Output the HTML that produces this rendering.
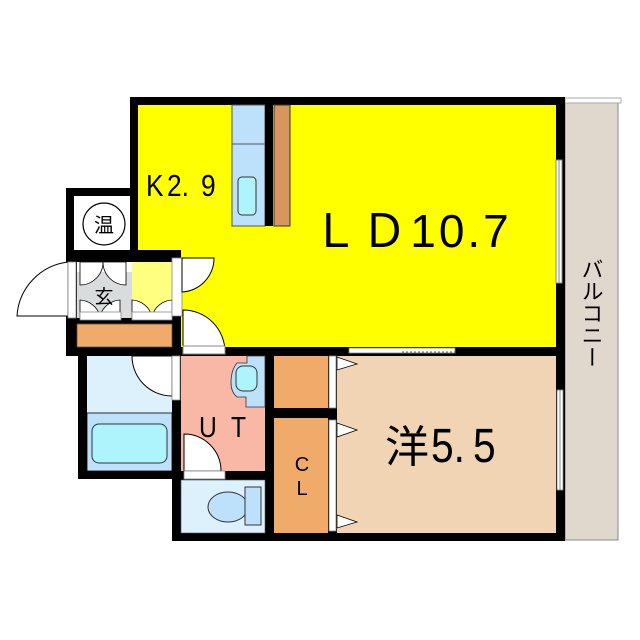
<!DOCTYPE html>
<html><head><meta charset="utf-8"><style>
html,body{margin:0;padding:0;background:#fff;}
svg{display:block;}
text{font-family:"Liberation Sans","Noto Sans CJK JP",sans-serif;fill:#000;}
</style></head><body>
<svg width="640" height="640" viewBox="0 0 640 640" xmlns="http://www.w3.org/2000/svg">
<rect width="640" height="640" fill="#fff"/>
<!-- balcony -->
<rect x="565" y="103" width="53" height="437" fill="#e0d8cc" stroke="#888" stroke-width="1"/>
<rect x="565" y="98" width="56" height="5" fill="#fff" stroke="#aaa" stroke-width="1"/>
<text x="591" y="258" font-size="22" style="writing-mode:vertical-rl">バルコニー</text>
<!-- outer black walls -->
<rect x="130" y="97" width="435" height="259" fill="#000"/>
<rect x="66" y="188" width="72" height="168" fill="#000"/>
<rect x="78" y="350" width="196" height="129" fill="#000"/>
<rect x="172" y="350" width="393" height="191" fill="#000"/>
<!-- LD yellow -->
<rect x="138" y="105" width="418" height="242" fill="#ffff00"/>
<!-- genkan block walls -->
<rect x="66" y="250" width="115" height="106" fill="#000"/>
<!-- corridor door in LD -->
<path d="M183 355 L183 310 A42 42 0 0 1 225 352 Z" fill="#fff" stroke="#000" stroke-width="1"/>
<rect x="183" y="346" width="42" height="8" fill="#fff" stroke="#888" stroke-width="1"/>
<!-- kitchen -->
<rect x="232" y="105" width="33" height="121" fill="#bde0fb" stroke="#555" stroke-width="1"/>
<line x1="232" y1="144" x2="265" y2="144" stroke="#555"/>
<rect x="238" y="177" width="18" height="38" rx="4" fill="#aef4fc" stroke="#333"/>
<rect x="265" y="105" width="8" height="121" fill="#000"/>
<rect x="274" y="105" width="16" height="121" fill="#d8955f" stroke="#333" stroke-width="1"/>
<!-- window right of LD -->
<rect x="556" y="160" width="6" height="123" fill="#fff" stroke="#888" stroke-width="1"/>
<line x1="559" y1="160" x2="559" y2="283" stroke="#888"/>
<!-- 温 -->
<rect x="74" y="196" width="56" height="54" fill="#fff"/>
<circle cx="104" cy="224" r="21" fill="#fff" stroke="#000" stroke-width="1.2"/>
<text x="104" y="232" font-size="20" text-anchor="middle">温</text>
<!-- genkan -->
<rect x="77" y="262" width="55" height="56" fill="#d9dcdd"/>
<rect x="132" y="262" width="40" height="56" fill="#ffff80"/>
<rect x="77" y="262" width="55" height="10" fill="#fff"/>
<path d="M80 262 L103 262 A23 23 0 0 1 80 285 Z" fill="#fff" stroke="#000" stroke-width="0.8"/>
<path d="M126 262 L103 262 A23 23 0 0 0 126 285 Z" fill="#fff" stroke="#000" stroke-width="0.8"/>
<path d="M80 318 L80 300 A22 22 0 0 1 100 316 A22 22 0 0 1 120 300 L120 318 Z" fill="#fff" stroke="#000" stroke-width="0.8"/>
<path d="M132 318 L132 300 A22 22 0 0 1 152 316 A22 22 0 0 1 172 300 L172 318 Z" fill="#fff" stroke="#000" stroke-width="0.8"/>
<rect x="80" y="312" width="41" height="8" fill="#fff" stroke="#888" stroke-width="0.8"/>
<rect x="132" y="312" width="40" height="8" fill="#fff" stroke="#888" stroke-width="0.8"/>
<text x="104" y="303" font-size="19" text-anchor="middle">玄</text>
<rect x="77" y="324" width="95" height="23" fill="#f0aa6a" stroke="#555" stroke-width="0.8"/>
<!-- entrance door -->
<path d="M68 316 L17 316 A58 58 0 0 1 68 262 Z" fill="#fff" stroke="#000" stroke-width="1"/>
<rect x="68" y="262" width="8" height="56" fill="#fff" stroke="#888" stroke-width="0.8"/>
<!-- genkan to LD door -->
<rect x="172" y="258" width="10" height="58" fill="#fff" stroke="#888" stroke-width="0.8"/>
<path d="M182 258 L214 258 A34 34 0 0 1 182 292 Z" fill="#fff" stroke="#000" stroke-width="1"/>
<!-- bath -->
<rect x="87" y="356" width="85" height="115" fill="#dcf1fb"/>
<rect x="87" y="413" width="85" height="58" fill="#bde0fb" stroke="#000" stroke-width="0.8"/>
<rect x="92" y="424" width="75" height="39" rx="7" fill="#aef4fc" stroke="#333"/>
<path d="M172 356 L132 356 A40 40 0 0 0 172 396 Z" fill="#fff" stroke="#000" stroke-width="1"/>
<rect x="172" y="356" width="8" height="44" fill="#fff" stroke="#888" stroke-width="0.8"/>
<!-- UT -->
<rect x="181" y="356" width="84" height="115" fill="#f9b8a5"/>
<path d="M247 356 L265 356 L265 407 L246 407 L246 397 L237 397 Q231 392 231 383 Q231 370 237 363 L247 363 Z" fill="#bde0fb" stroke="#333" stroke-width="0.8"/>
<rect x="236" y="366" width="21" height="25" rx="7" fill="#aef4fc" stroke="#333"/>
<text transform="translate(199,437) scale(0.85,1)" font-size="29">U</text>
<text transform="translate(231,437) scale(0.85,1)" font-size="29">T</text>
<path d="M184 471 L184 434 A37 37 0 0 1 221 471 Z" fill="#fff" stroke="#000" stroke-width="1"/>
<rect x="184" y="471" width="41" height="8" fill="#fff" stroke="#888" stroke-width="0.8"/>
<!-- toilet -->
<rect x="181" y="480" width="84" height="53" fill="#dcf1fb" stroke="#555" stroke-width="0.6"/>
<ellipse cx="228" cy="507" rx="20" ry="15" fill="#bde0fb" stroke="#333"/>
<rect x="245" y="487" width="16" height="38" fill="#bde0fb" stroke="#333"/>
<!-- closets -->
<rect x="274" y="356" width="54" height="52" fill="#f0aa6a"/>
<rect x="274" y="418" width="54" height="115" fill="#f0aa6a"/>
<text x="302" y="471" font-size="20" text-anchor="middle">C</text>
<text x="302" y="495" font-size="20" text-anchor="middle">L</text>
<!-- western -->
<rect x="337" y="356" width="219" height="177" fill="#f0d4b4"/>
<rect x="329" y="356" width="7" height="52" fill="#fff" stroke="#888" stroke-width="0.8"/>
<rect x="329" y="420" width="7" height="111" fill="#fff" stroke="#888" stroke-width="0.8"/>
<path d="M337 357 L357 364 L337 370 Z" fill="#fff" stroke="#000" stroke-width="0.8"/>
<path d="M337 423 L357 430 L337 437 Z" fill="#fff" stroke="#000" stroke-width="0.8"/>
<path d="M337 515 L357 522 L337 528 Z" fill="#fff" stroke="#000" stroke-width="0.8"/>
<rect x="349" y="348" width="106" height="5" fill="#fff" stroke="#888" stroke-width="0.8"/>
<line x1="402" y1="352" x2="455" y2="352" stroke="#666" stroke-dasharray="2,2"/>
<rect x="557" y="390" width="6" height="100" fill="#fff" stroke="#888" stroke-width="0.8"/>
<line x1="560" y1="390" x2="560" y2="490" stroke="#888"/>
<text x="385" y="462" font-size="44">洋</text>
<text transform="translate(431,462) scale(0.85,1)" font-size="48">5.</text>
<text transform="translate(473,462) scale(0.85,1)" font-size="48">5</text>
<!-- labels -->
<text transform="translate(146,196) scale(0.85,1)" font-size="31">K</text>
<text transform="translate(167,196) scale(0.85,1)" font-size="31">2.</text>
<text transform="translate(201,196) scale(0.85,1)" font-size="31">9</text>
<text x="412" y="247" font-size="46" text-anchor="middle" letter-spacing="3">ＬＤ10.7</text>
</svg>
</body></html>
